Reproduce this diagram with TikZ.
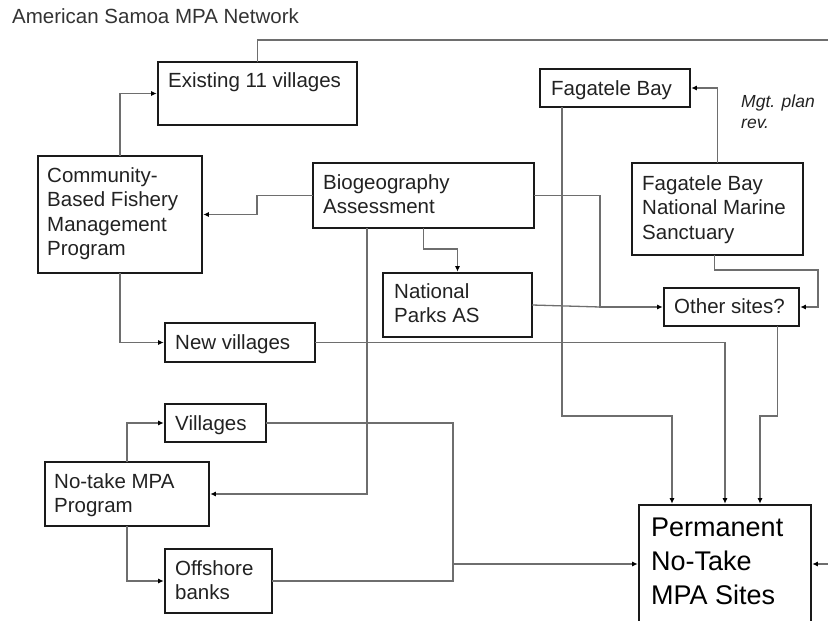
\documentclass[tikz,border=0pt]{standalone}
\usepackage{fontspec}
\setmainfont{Liberation Sans}
\usetikzlibrary{arrows.meta}
\definecolor{boxline}{HTML}{1A1A1A}
\definecolor{connline}{HTML}{6E6E6E}
\definecolor{txtcol}{HTML}{222222}
\tikzset{
  boxnode/.style={draw=boxline, line width=2.6pt, inner sep=0pt, outer sep=0pt, anchor=north west, fill=white},
  txt/.style={inner sep=0pt, anchor=north west, align=left, text=txtcol,
    font=\fontsize{20.5}{24.5}\selectfont},
  conn/.style={draw=connline, line width=1.3pt},
  arr/.style={conn, -{Latex[length=5.5pt,width=5pt,color=black]}, shorten >=1.3pt}
}
\begin{document}
\begin{tikzpicture}[x=1pt,y=-1pt]
\useasboundingbox (0,0) rectangle (828,621);
% title
\node[txt, text=black!80] (title) at (12,8) {American Samoa MPA Network};

% boxes
\node[boxnode, minimum width=199, minimum height=63] (exist) at (158,62) {};
\node[boxnode, minimum width=164, minimum height=117] (comm) at (38,156) {};
\node[boxnode, minimum width=221, minimum height=65] (bio) at (313,163) {};
\node[boxnode, minimum width=149, minimum height=64] (np) at (383,273) {};
\node[boxnode, minimum width=150, minimum height=38] (fag) at (540,69) {};
\node[boxnode, minimum width=171, minimum height=92] (fbnms) at (632,163) {};
\node[boxnode, minimum width=135, minimum height=38] (other) at (664,288) {};
\node[boxnode, minimum width=150, minimum height=39] (newv) at (165,323) {};
\node[boxnode, minimum width=101, minimum height=38] (vill) at (165,404) {};
\node[boxnode, minimum width=164, minimum height=64] (notake) at (45,462) {};
\node[boxnode, minimum width=107, minimum height=64] (off) at (165,549) {};
\node[boxnode, minimum width=172, minimum height=118] (perm) at (639,505) {};

% junction points
\coordinate (jother) at ([xshift=-64]other.west);
\coordinate (jperm) at ([xshift=-186]perm.west);

% connectors
\draw[arr] (comm.north) |- (exist.west);
\draw[arr] (bio.west) -- ([xshift=-56]bio.west) -- ([xshift=55]comm.east) -- (comm.east);
\draw[arr] (bio.south) -- ([yshift=-21]bio.south) -| (np.north);
\draw[arr] (bio.east) -| (jother) -- (other.west);
\draw[conn] (np.east) -- (jother);
\draw[arr] ([xshift=-56.5]bio.south) |- (notake.east);
\draw[arr] (fbnms.north) |- (fag.east);
\draw[arr] ([xshift=-3]fbnms.south) -- ([xshift=-3,yshift=-15]fbnms.south) -| ([xshift=19]other.east) |- (other.east);
\draw[arr] ([xshift=-53]fag.south) |- (672,416) -- ([xshift=-53]perm.north);
\draw[arr] ([xshift=46]other.south) |- (760,416) -- ([xshift=35]perm.north);
\draw[arr] (newv.east) -| (perm.north);
\draw[arr] (comm.south) |- (newv.west);
\draw[arr] (notake.north) |- (vill.west);
\draw[arr] (notake.south) |- (off.west);
\draw[arr] (vill.east) -| (jperm) -- (perm.west);
\draw[conn] (off.east) -| (jperm);
\draw[arr] (exist.north) -- (257.5,40) -- (845,40) |- (perm.east);

% texts
\node[txt] (exist-t) at (168,72.5) {Existing 11 villages};
\node[txt] (comm-t) at (47,167) {Community-\\Based Fishery\\Management\\Program};
\node[txt] (bio-t) at (323,174) {Biogeography\\Assessment};
\node[txt] (np-t) at (394,283) {National\\Parks AS};
\node[txt] (fag-t) at (551,80) {Fagatele Bay};
\node[txt] (fbnms-t) at (642,175) {Fagatele Bay\\National Marine\\Sanctuary};
\node[txt] (other-t) at (674,298) {Other sites?};
\node[txt] (newv-t) at (175,334) {New villages};
\node[txt] (vill-t) at (175,415) {Villages};
\node[txt] (notake-t) at (54,473) {No-take MPA\\Program};
\node[txt] (off-t) at (175,560) {Offshore\\banks};
\node[txt, font=\fontsize{27}{34}\selectfont, text=black] (perm-t) at (651,518) {Permanent\\No-Take\\MPA Sites};
\node[txt, font=\fontsize{17.5}{21}\selectfont\itshape] (mgt) at (741,95) {Mgt. plan\\rev.};
\end{tikzpicture}
\end{document}
